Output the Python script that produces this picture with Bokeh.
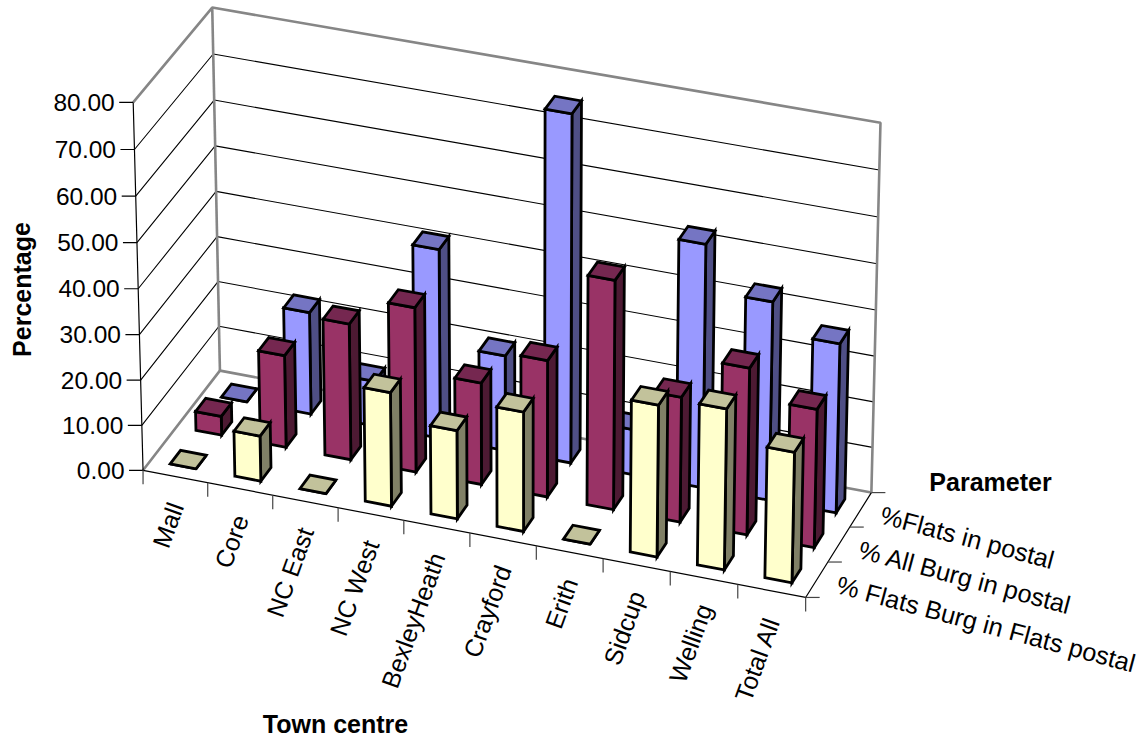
import numpy as np
from bokeh.plotting import figure
from bokeh.models import Range1d
from bokeh.core.properties import value
from bokeh.embed import file_html
from bokeh.resources import INLINE

categories = ["Mall", "Core", "NC East", "NC West", "BexleyHeath", "Crayford",
              "Erith", "Sidcup", "Welling", "Total All"]
series_names = ["% Flats Burg in Flats postal", "% All Burg in postal", "%Flats in postal"]
flats_burg = [0.0, 10.0, 0.0, 25.0, 19.4, 26.2, 0.0, 33.1, 35.0, 28.4]
all_burg = [4.2, 20.4, 30.0, 36.2, 22.4, 30.0, 50.0, 27.4, 36.4, 30.2]
flats_postal = [0.0, 22.6, 10.0, 41.7, 21.0, 76.0, 10.0, 53.2, 43.4, 37.0]
z_ticks = [0, 10, 20, 30, 40, 50, 60, 70, 80]

series_values = [flats_burg, all_burg, flats_postal]
face_colors = [("#FFFFCC", "#C2C29B", "#808066"),
               ("#993366", "#752750", "#4D1A33"),
               ("#9999FF", "#7575C3", "#4F4F85")]
FONT = "Liberation Sans"
N_CAT, N_SER, Z_MAX = len(categories), len(series_names), 80.0
BAR_FRACTION = 0.4

# Camera: a projective map from the unit box (category, series, value) to the page,
# fitted to where the box corners should land.
anchors = [((0, 0, 0), (142.7, 470.0)), ((0, 1, 0), (219.3, 370.0)),
           ((1, 0, 0), (805.0, 597.0)), ((1, 1, 0), (871.0, 492.0)),
           ((0, 0, 1), (132.7, 101.7)), ((0, 1, 1), (211.7, 7.3)),
           ((1, 1, 1), (880.0, 122.3))]
rows = []
for (x, y, z), (u, v) in anchors:
    rows.append([x, y, z, 1, 0, 0, 0, 0, -u * x, -u * y, -u * z, -u])
    rows.append([0, 0, 0, 0, x, y, z, 1, -v * x, -v * y, -v * z, -v])
camera = np.linalg.svd(np.array(rows, float))[2][-1].reshape(3, 4)


def project(cat, ser, val):
    """Page position of a point given in category, series and value units."""
    h = camera @ np.array([cat / N_CAT, ser / N_SER, val / Z_MAX, 1.0])
    return h[0] / h[2], h[1] / h[2]


def polyline(p, points, **style):
    xy = [project(*q) for q in points]
    p.line([a for a, _ in xy], [b for _, b in xy], **style)


def face(p, corners, color):
    xy = [project(*q) for q in corners]
    p.patch([a for a, _ in xy], [b for _, b in xy], fill_color=color,
            line_color="black", line_width=2.8, line_join="miter")


p = figure(width=1142, height=740, output_backend="svg", toolbar_location=None,
           x_range=Range1d(0, 1142), y_range=Range1d(740, 0), min_border=0,
           x_axis_type=None, y_axis_type=None, outline_line_color=None)
p.grid.visible = False

# Gridlines on the two walls
for t in z_ticks[1:-1]:
    polyline(p, [(0, 0, t), (0, N_SER, t), (N_CAT, N_SER, t)], line_color="black", line_width=1.1)

# Wall and floor borders
GREY = dict(line_color="#868686", line_width=2.6)
polyline(p, [(0, 0, Z_MAX), (0, N_SER, Z_MAX), (N_CAT, N_SER, Z_MAX), (N_CAT, N_SER, 0)], **GREY)
polyline(p, [(0, N_SER, Z_MAX), (0, N_SER, 0)], **GREY)
polyline(p, [(0, 0, 0), (0, N_SER, 0), (N_CAT, N_SER, 0)], **GREY)

# Axes with their outward ticks
AXIS = dict(line_color="black", line_width=1.2)
polyline(p, [(0, 0, Z_MAX), (0, 0, 0), (N_CAT, 0, 0), (N_CAT, N_SER, 0)], **AXIS)
for t in z_ticks:
    u, v = project(0, 0, t)
    p.line([u - 14, u], [v, v], **AXIS)
    p.text([u - 18.5], [v], text=[f"{t:.2f}"], text_font=value(FONT), text_font_size="24.5px",
           text_align="right", text_baseline="middle")
for i in range(N_CAT + 1):
    u, v = project(i, 0, 0)
    p.line([u, u], [v, v + 14], line_color="#444444", line_width=1.2)
for j in range(N_SER + 1):
    u, v = project(N_CAT, j, 0)
    p.line([u, u + 14], [v, v], line_color="#444444", line_width=1.2)

# Bars, painted from the back row forward and left to right
half = BAR_FRACTION / 2
for j in reversed(range(N_SER)):
    front, top, side = face_colors[j]
    y0, y1 = j + 0.5 - half, j + 0.5 + half
    for i, val in enumerate(series_values[j]):
        x0, x1 = i + 0.5 - half, i + 0.5 + half
        face(p, [(x1, y0, 0), (x1, y1, 0), (x1, y1, val), (x1, y0, val)], side)
        face(p, [(x0, y0, 0), (x1, y0, 0), (x1, y0, val), (x0, y0, val)], front)
        face(p, [(x0, y0, val), (x1, y0, val), (x1, y1, val), (x0, y1, val)], top)

# Category labels, rotated and ending under each slot
for i, name in enumerate(categories):
    u, v = project(i + 0.5, 0, 0)
    p.text([u + 0.5], [v + 27], text=[name], text_font=value(FONT), text_font_size="25px",
           text_align="right", text_baseline="middle", angle=[np.radians(70)])

# Series labels, slanting down along the front edge
for j, name in enumerate(series_names):
    u, v = project(N_CAT, j + 0.5, 0)
    p.text([u + 20.5], [v + 4.5], text=[name], text_font=value(FONT), text_font_size="25.3px",
           text_align="left", text_baseline="middle", angle=[np.radians(-15)])

# Axis titles
TITLE = dict(text_font=value(FONT), text_font_size="25px", text_font_style="bold",
             text_align="center", text_baseline="middle")
p.text([21], [289], text=["Percentage"], angle=[np.pi / 2], **TITLE)
p.text([335], [723], text=["Town centre"], **TITLE)
p.text([990], [481], text=["Parameter"], **TITLE)

open("out.html", "w").write(file_html(p, INLINE))
